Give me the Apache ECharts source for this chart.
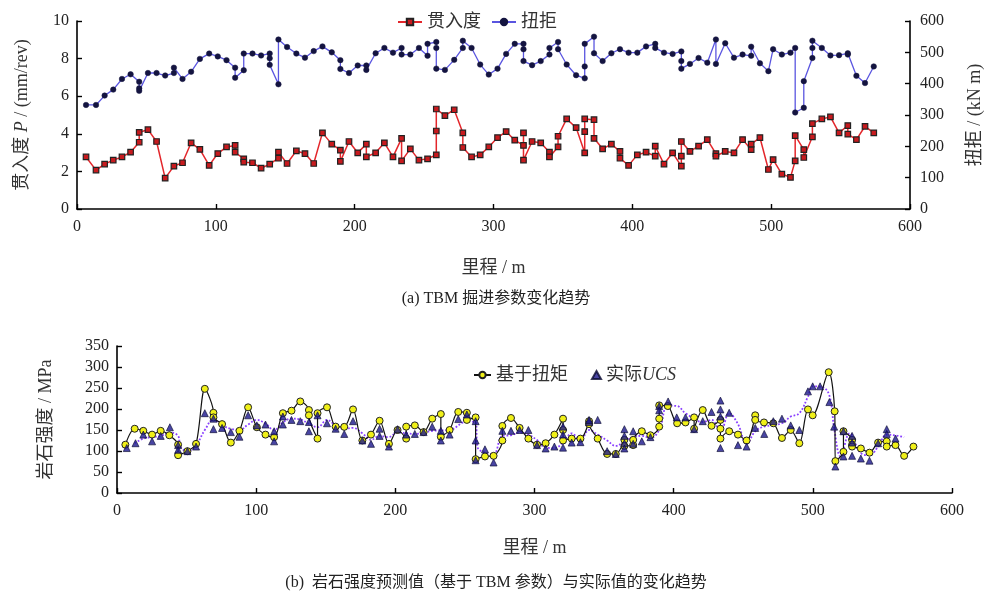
<!DOCTYPE html>
<html>
<head>
<meta charset="utf-8">
<script src="https://cdn.jsdelivr.net/npm/echarts@6/dist/echarts.min.js"></script>
<style>
html,body{margin:0;padding:0;background:#fff;}
#c{width:992px;height:598px;}
</style>
</head>
<body>
<div id="c"></div>
<script>
// ---------- tick labels ----------
const xTicks = [0, 100, 200, 300, 400, 500, 600];
const penLeftTicks = [0, 2, 4, 6, 8, 10];
const torqueRightTicks = [0, 100, 200, 300, 400, 500, 600];
const ucsTicks = [0, 50, 100, 150, 200, 250, 300, 350];

// ---------- (a) TBM parameters ----------
const penMileage = [6.5,13.7,19.9,26.1,32.4,38.6,44.8,44.8,51.1,57.3,63.5,69.8,76,82.2,88.5,95.2,101.4,107.7,113.9,113.9,120.1,120.1,126.4,132.6,138.8,145.1,145.1,151.3,158,164.2,170.5,176.8,183.5,189.7,189.7,195.9,202.2,208.4,208.4,215.1,221.4,227.6,233.8,233.8,240.1,246.3,252.5,258.8,258.8,258.8,265,271.7,277.9,277.9,284.2,290.4,296.6,302.9,309.1,315.3,321.6,321.6,321.6,327.8,334,340.3,340.3,346.5,346.5,352.7,359.5,365.7,365.7,365.7,372.4,372.4,378.6,384.9,391.1,391.1,397.3,403.6,409.9,416.5,416.5,422.8,429,435.3,435.3,435.3,441.5,447.7,454,460.2,460.2,466.9,473.2,479.4,485.6,485.6,491.9,498,501.4,507.7,513.9,517.3,517.3,523.5,523.5,529.7,529.7,536.5,542.7,548.9,555.2,555.2,561.4,567.6,573.9];
const penValues = [2.77,2.07,2.39,2.6,2.77,3.02,3.55,4.08,4.22,3.59,1.64,2.28,2.46,3.52,3.17,2.32,2.95,3.3,3.38,3.02,2.67,2.49,2.46,2.17,2.39,2.70,3.02,2.42,3.09,2.95,2.42,4.05,3.45,3.13,2.53,3.59,2.99,3.45,2.77,2.99,3.52,2.77,3.76,2.56,3.2,2.6,2.67,2.88,4.15,5.32,4.97,5.28,4.05,3.27,2.77,2.88,3.3,3.8,4.12,3.66,3.38,4.05,2.6,3.59,3.52,3.02,2.77,3.3,3.87,4.79,4.33,2.99,4.12,4.79,4.75,3.76,3.2,3.45,3.06,2.7,2.32,2.88,3.02,2.81,3.34,2.39,2.99,2.28,2.81,3.59,3.06,3.34,3.69,2.95,2.81,3.06,2.99,3.69,3.16,3.45,3.8,2.1,2.63,1.86,1.68,2.56,3.9,3.16,2.74,3.84,4.54,4.79,4.9,4.05,4.44,3.98,3.69,4.4,4.05];

const torqueMileage = [6.5,13.7,19.9,26.1,32.4,38.6,44.8,44.8,44.8,51.1,57.3,63.5,69.8,69.8,76,82.2,88.5,95.2,101.4,107.7,113.9,113.9,120.1,120.1,126.4,132.6,138.8,138.8,138.8,145.1,145.1,151.3,158,164.2,170.5,176.8,183.5,189.7,189.7,195.9,202.2,208.4,208.4,215.1,221.4,227.6,233.8,233.8,240.1,246.3,252.5,252.5,258.8,258.8,258.8,265,271.7,277.9,277.9,284.2,290.4,296.6,302.9,309.1,315.3,321.6,321.6,321.6,327.8,334,340.3,340.3,346.5,346.5,352.7,359.5,365.7,365.7,365.7,372.4,372.4,378.6,384.9,391.1,397.3,403.6,409.9,416.5,416.5,422.8,429,435.3,435.3,435.3,441.5,447.7,454,460.2,460.2,466.9,473.2,479.4,485.6,485.6,491.9,498,501.4,507.7,513.9,517.3,517.3,523.5,523.5,529.7,529.7,529.7,536.5,542.7,548.9,555.2,555.2,561.4,567.6,573.9];
const torqueValues = [332,332,362,381,415,430,406,385,377,434,434,426,434,451,415,438,479,496,487,475,451,419,443,496,496,490,496,481,460,398,541,517,496,483,504,519,500,475,447,434,458,458,444,497,514,499,514,493,493,514,489,527,533,514,448,444,476,514,537,514,461,429,448,495,527,527,510,472,459,472,493,514,533,510,461,427,417,455,527,550,497,472,497,510,499,499,519,527,514,499,495,503,472,448,463,482,467,541,463,529,483,493,489,518,465,440,510,493,499,514,308,323,408,482,514,537,514,490,491,497,493,425,402,455];

// ---------- (b) rock strength ----------
const predMileage = [6.0,12.7,18.9,25.2,31.4,37.6,43.9,43.9,50.6,56.8,63.1,69.3,69.3,75.5,81.8,88,94.2,100.5,106.7,112.9,119.2,125.4,131.7,137.9,137.9,144.1,144.1,150.9,157.1,163.3,169.6,176.3,182.5,188.7,195.4,201.6,207.8,207.8,214,220.3,226.5,232.7,232.7,239,245.2,251.4,251.4,257.7,257.7,264.4,270.6,276.9,276.9,283.1,289.3,295.6,301.8,308,314.3,320.5,320.5,320.5,326.7,333,339.2,339.2,345.4,352.2,358.4,364.6,364.6,370.9,370.9,377.1,383.3,389.6,389.6,389.6,395.8,402.5,408.5,414.7,414.7,420.9,427.2,433.6,433.6,433.6,439.9,446.2,452.4,458.6,458.6,464.9,471.6,477.8,484.1,490.3,496.5,499.9,511.4,515.7,516.2,522,522,528.2,528.2,528.2,534.5,540.7,546.9,553.1,553.1,559.4,565.6,572.3];
const predValues = [115,153,148,139,148,137.5,115,90,99.6,117,248,191,180,164,120,148,204,156.5,139,133,190,196,218,197.5,185,129.5,190,204,158,157.5,199,125,139,172,117,150,129.5,158,161,145,177,188,134,150,193,191,174,180,80.6,87,88.5,125,159.6,178.6,155,129.5,115,118.5,139,177,150,125,129.5,129.5,171,164,129.5,93,93,126.5,112,114,126.5,147,137.5,158,177,208.6,207,166,168,180,153,197.5,160,174,153,129.5,147,139,125,185,174,168,166,131,150,118.5,199,185,287.6,194.5,75.9,98,147,126.5,115,110.5,106,96,120,123,110.5,114,88.5,110.5];

const actualMileage = [7,13.3,18.9,25.2,31.4,38,43.9,43.9,50.6,56.8,63.1,69.3,69.3,75.5,81.8,88,94.2,100.5,106.7,112.9,112.9,119.2,119.2,125.4,131.7,137.9,137.9,144.1,150.9,157.1,163.3,169.6,176.3,182.5,188.7,188.7,195.4,201.6,207.8,214,220.3,226.5,232.7,232.7,239,245.2,251.4,257.7,257.7,257.7,264.4,270.6,276.9,283.1,289.3,295.6,301.8,308,314.3,320.5,320.5,320.5,326.7,333,339.2,339.2,345.4,352.2,358.4,364.6,364.6,364.6,364.6,370.9,370.9,377.1,383.3,389.6,389.6,396,402.2,408.5,414.7,420.9,427.2,433.6,433.6,433.6,433.6,439.9,446.2,452.4,458.6,465.1,471.6,477.8,484.1,490.3,496.5,499.9,505.2,511.9,515.3,516.2,522,522,528.2,528.2,528.2,534.5,540.7,546.9,553.1,553.1,559.4];
const actualValues = [107,118.5,139,123,136,156.5,114,102.7,99.6,110.5,190,177,152,155,145,134,185,161,163,147,123,163,182,174,171,169,147,185,166,153,140.6,171,125,117,136,153,110.5,152,139,140.6,145,158,148,125,139,176,187,171,125,78,104,72.6,148,148,150,150,114,106,110.5,108,139,158,120,121,169,174,174,99.6,93,152,136,118.5,106,147,117,123,133,207,197,218,180,180,152,171,193,220,199,182,107,191,114,110.5,155,140.6,171,177,161,150,242,254,254,216.5,158,63,147,87,136,120,88.5,82,77,118.5,152,140.6,129.5];

const trendMileage = [12.7,18.9,25.2,31.4,38,43.9,45.6,50.6,56.8,63.1,69.3,75.5,81.8,88,94.2,100.5,106.7,112.9,119.2,125.4,131.7,137.9,144.1,150.9,157.1,163.3,169.6,176.3,182.5,188.7,195,201.6,214,226.5,239,251.4,257.7,259,264.4,270.6,276.9,283.1,289.3,295.6,301.8,308,314.3,320.5,326.7,333,339.2,345.4,352.2,358.4,364.6,370.9,377.1,383.3,389.6,395.8,402.5,408.5,420.9,427.2,433.6,439.9,446.2,452.4,458.6,464.9,477.8,484.1,490.3,496.5,499.9,507,512,515.5,520,526.5,534.5,540.7,546.9,553.1,559.4,565.6];
const trendValues = [118.5,129.5,133,136,144,136,110,100,114,150,175,161,153,150,163,174,165,150,168,177,175,165,156.5,174,161,153,155,142,126.5,136,133,144,140.6,148,150,170,168,110,96,93,136,137.5,144,139,126,108,107,120,142,126,150,139,125,112,123,133,136,131,150,208,207,190,169,174,147,190,164,117,147,158,166,182,190,229,254,252,231,150,87,142,95,90,110.5,139,137,133];

const zip = (xs, ys) => xs.map((x, i) => [x, ys[i]]);

const SERIF = '"Liberation Serif","Times New Roman","Noto Sans CJK SC",serif';
const axisLineStyle = {show: true, lineStyle: {color: '#000', width: 1.6}};
const tickStyle = {show: true, inside: true, length: 5, lineStyle: {color: '#000', width: 1.4}};
const labelStyle = {color: '#222', fontFamily: SERIF, fontSize: 16};
const legendText = {fontFamily: SERIF, fontSize: 18, color: '#333'};

const chart = echarts.init(document.getElementById('c'), null, {renderer: 'canvas'});
chart.setOption({
  animation: false,
  backgroundColor: '#fff',
  grid: [
    {left: 77, top: 21, width: 834, height: 188, containLabel: false},
    {left: 117, top: 346, width: 835, height: 147, containLabel: false}
  ],
  legend: [
    {
      data: ['贯入度', '扭拒'],
      left: 392, top: 8, itemWidth: 24, itemHeight: 8, itemGap: 10,
      textStyle: legendText
    },
    {
      data: ['基于扭矩'],
      left: 468, top: 361, itemWidth: 17, itemHeight: 8, itemGap: 4,
      textStyle: legendText
    },
    {
      data: [{name: '实际UCS', icon: 'triangle'}],
      left: 586, top: 361, itemWidth: 9, itemHeight: 8, itemGap: 4,
      textStyle: Object.assign({rich: {it: {fontStyle: 'italic', fontFamily: SERIF, fontSize: 18, color: '#333'}}}, legendText),
      formatter: function (n) { return '实际{it|UCS}'; }
    }
  ],
  xAxis: [
    {
      type: 'value', gridIndex: 0, min: 0, max: 600, interval: 100,
      name: '里程 / m', nameLocation: 'middle', nameGap: 50,
      nameTextStyle: {fontFamily: SERIF, fontSize: 18, color: '#333'},
      axisLine: axisLineStyle, axisTick: tickStyle,
      axisLabel: Object.assign({margin: 10, formatter: v => xTicks.includes(v) ? String(v) : ''}, labelStyle),
      splitLine: {show: false}
    },
    {
      type: 'value', gridIndex: 1, min: 0, max: 600, interval: 100,
      name: '里程 / m', nameLocation: 'middle', nameGap: 46,
      nameTextStyle: {fontFamily: SERIF, fontSize: 18, color: '#333'},
      axisLine: axisLineStyle, axisTick: tickStyle,
      axisLabel: Object.assign({margin: 10, formatter: v => xTicks.includes(v) ? String(v) : ''}, labelStyle),
      splitLine: {show: false}
    }
  ],
  yAxis: [
    {
      type: 'value', gridIndex: 0, min: 0, max: 10, interval: 2, position: 'left',
      name: '贯入度 {i|P} / (mm/rev)', nameLocation: 'middle', nameGap: 46,
      nameTextStyle: {fontFamily: SERIF, fontSize: 18, color: '#333',
        rich: {i: {fontStyle: 'italic', fontFamily: SERIF, fontSize: 18, color: '#333'}}},
      axisLine: axisLineStyle, axisTick: tickStyle,
      axisLabel: Object.assign({margin: 8, formatter: v => penLeftTicks.includes(v) ? String(v) : ''}, labelStyle),
      splitLine: {show: false}
    },
    {
      type: 'value', gridIndex: 0, min: 0, max: 600, interval: 100, position: 'right',
      name: '扭拒 / (kN m)', nameLocation: 'middle', nameGap: 56,
      nameTextStyle: {fontFamily: SERIF, fontSize: 18, color: '#333'},
      axisLine: axisLineStyle, axisTick: tickStyle,
      axisLabel: Object.assign({margin: 10, formatter: v => torqueRightTicks.includes(v) ? String(v) : ''}, labelStyle),
      splitLine: {show: false}
    },
    {
      type: 'value', gridIndex: 1, min: 0, max: 350, interval: 50, position: 'left',
      name: '岩石强度 / MPa', nameLocation: 'middle', nameGap: 62,
      nameTextStyle: {fontFamily: SERIF, fontSize: 18, color: '#333'},
      axisLine: axisLineStyle, axisTick: tickStyle,
      axisLabel: Object.assign({margin: 8, formatter: v => ucsTicks.includes(v) ? String(v) : ''}, labelStyle),
      splitLine: {show: false}
    }
  ],
  graphic: [
    {type: 'text', left: 'center', top: 291,
      style: {text: '(a) TBM 掘进参数变化趋势', font: '16px "Liberation Serif","Noto Sans CJK SC",serif', fill: '#222'}},
    {type: 'text', left: 'center', top: 575,
      style: {text: '(b)  岩石强度预测值（基于 TBM 参数）与实际值的变化趋势', font: '16px "Liberation Serif","Noto Sans CJK SC",serif', fill: '#222'}}
  ],
  series: [
    {
      name: '贯入度', type: 'line', xAxisIndex: 0, yAxisIndex: 0,
      data: zip(penMileage, penValues),
      symbol: 'rect', symbolSize: 5.5,
      lineStyle: {color: '#e3262b', width: 1.5},
      itemStyle: {color: '#c81a1e', borderColor: '#222', borderWidth: 1.2},
      z: 3
    },
    {
      name: '扭拒', type: 'line', xAxisIndex: 0, yAxisIndex: 1,
      data: zip(torqueMileage, torqueValues),
      symbol: 'circle', symbolSize: 5.5,
      lineStyle: {color: '#5a55e0', width: 1.3},
      itemStyle: {color: '#141440', borderColor: '#141440', borderWidth: 0.5},
      z: 3
    },
    {
      name: 'trend', type: 'line', xAxisIndex: 1, yAxisIndex: 2,
      data: zip(trendMileage, trendValues),
      smooth: 0.4, showSymbol: false, symbol: 'none',
      lineStyle: {color: '#8a40ff', width: 1.8, type: 'dotted'},
      z: 2
    },
    {
      name: '基于扭矩', type: 'line', xAxisIndex: 1, yAxisIndex: 2,
      data: zip(predMileage, predValues),
      smooth: 0.3, symbol: 'circle', symbolSize: 7,
      lineStyle: {color: '#111', width: 1.2},
      itemStyle: {color: '#f0f018', borderColor: '#222', borderWidth: 1},
      z: 3
    },
    {
      name: '实际UCS', type: 'scatter', xAxisIndex: 1, yAxisIndex: 2,
      data: zip(actualMileage, actualValues),
      symbol: 'triangle', symbolSize: 7,
      itemStyle: {color: '#1c168c', borderColor: '#0a0a30', borderWidth: 0.8},
      z: 4
    }
  ]
});
</script>
</body>
</html>
